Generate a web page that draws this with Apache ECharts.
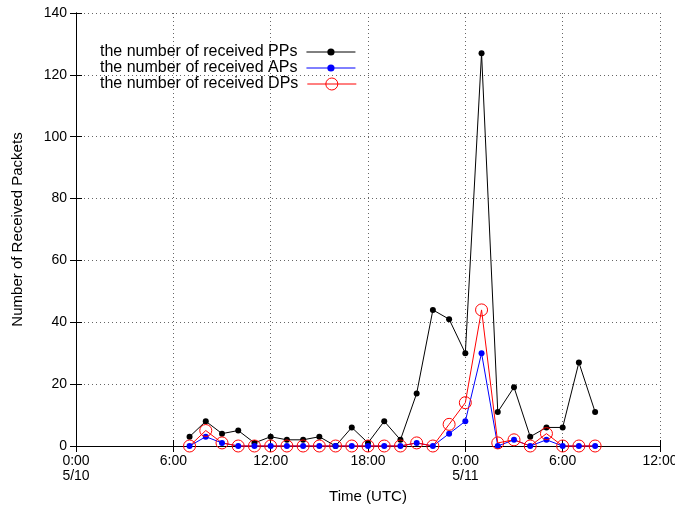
<!DOCTYPE html>
<html>
<head>
<meta charset="utf-8">
<script src="https://cdn.jsdelivr.net/npm/echarts@6/dist/echarts.min.js"></script>
<style>
html, body { margin: 0; padding: 0; background: #fff; }
#main { width: 675px; height: 506px; }
</style>
</head>
<body>
<div id="main"></div>
<script>
// hours since 0:00 5/10
var hours = [7, 8, 9, 10, 11, 12, 13, 14, 15, 16, 17, 18, 19, 20, 21, 22, 23, 24, 25, 26, 27, 28, 29, 30, 31, 32];
var ppValues = [3, 8, 4, 5, 1, 3, 2, 2, 3, 0, 6, 1, 8, 2, 17, 44, 41, 30, 127, 11, 19, 3, 6, 6, 27, 11];
var apValues = [0, 3, 1, 0, 0, 0, 0, 0, 0, 0, 0, 0, 0, 0, 1, 0, 4, 8, 30, 0, 2, 0, 2, 0, 0, 0];
var dpValues = [0, 5, 1, 0, 0, 0, 0, 0, 0, 0, 0, 0, 0, 0, 1, 0, 7, 14, 44, 1, 2, 0, 4, 0, 0, 0];
var seriesNames = ['the number of received PPs', 'the number of received APs', 'the number of received DPs'];
var xTickLabels = {0: '0:00\n5/10', 6: '6:00', 12: '12:00', 18: '18:00', 24: '0:00\n5/11', 30: '6:00', 36: '12:00'};

function pairs(vals) {
	return hours.map(function (h, i) { return [h, vals[i]]; });
}

var font = 'Liberation Sans, Arial, sans-serif';
var grid = { type: [1, 3], color: '#666', width: 1 };

// one legend per row so the marker size can differ (red circle is bigger)
function legendRow(name, top, h, extra) {
	var l = {
		orient: 'vertical',
		align: 'right',
		left: 100,
		top: top,
		padding: 0,
		itemWidth: 49,
		itemHeight: h,
		lineStyle: { width: 1 },
		textStyle: { fontFamily: font, fontSize: 16, color: '#000', padding: [0, 4, 0, 0] },
		data: [name]
	};
	if (extra) l.itemStyle = extra;
	return l;
}

var chart = echarts.init(document.getElementById('main'), null, { renderer: 'canvas' });
chart.setOption({
	animation: false,
	textStyle: { fontFamily: font },
	grid: { left: 76, right: 15, top: 13, bottom: 60, outerBoundsMode: 'none', containLabel: false },
	legend: [
		legendRow(seriesNames[0], 44, 9),
		legendRow(seriesNames[1], 60, 9),
		legendRow(seriesNames[2], 76, 15, { borderWidth: 1 })
	],
	xAxis: [{
		type: 'value',
		min: 0, max: 36, interval: 6,
		name: 'Time (UTC)',
		nameLocation: 'middle',
		nameGap: 41,
		nameTextStyle: { fontSize: 15, color: '#000' },
		axisLine: { lineStyle: { color: '#000' } },
		axisTick: { inside: true, length: 6, lineStyle: { color: '#000' } },
		axisLabel: {
			color: '#000', fontSize: 14, margin: 8, lineHeight: 15,
			formatter: function (v) { return xTickLabels[v]; }
		},
		splitLine: { show: true, lineStyle: grid }
	}, {
		type: 'value', position: 'top',
		min: 0, max: 36, interval: 6,
		axisLine: { show: true, lineStyle: { color: '#000' } },
		axisTick: { inside: true, length: 6, lineStyle: { color: '#000' } },
		axisLabel: { show: false },
		splitLine: { show: false }
	}],
	yAxis: [{
		type: 'value',
		min: 0, max: 140, interval: 20,
		name: 'Number of Received Packets',
		nameLocation: 'middle',
		nameGap: 51,
		nameTextStyle: { fontSize: 15, color: '#000' },
		axisLine: { show: true, lineStyle: { color: '#000' } },
		axisTick: { show: true, inside: true, length: 6, lineStyle: { color: '#000' } },
		axisLabel: { color: '#000', fontSize: 14, margin: 9 },
		splitLine: { show: true, lineStyle: grid }
	}, {
		type: 'value', position: 'right',
		min: 0, max: 140, interval: 20,
		axisLine: { show: true, lineStyle: { color: '#000' } },
		axisTick: { show: true, inside: true, length: 6, lineStyle: { color: '#000' } },
		axisLabel: { show: false },
		splitLine: { show: false }
	}],
	series: [{
		name: seriesNames[0],
		type: 'line',
		data: pairs(ppValues),
		symbol: 'circle', symbolSize: 6,
		clip: false,
		color: '#000',
		lineStyle: { color: '#000', width: 1 },
		itemStyle: { color: '#000' }
	}, {
		name: seriesNames[1],
		type: 'line',
		data: pairs(apValues),
		symbol: 'circle', symbolSize: 6,
		clip: false,
		color: '#0000ff',
		lineStyle: { color: '#0000ff', width: 1 },
		itemStyle: { color: '#0000ff' }
	}, {
		name: seriesNames[2],
		type: 'line',
		data: pairs(dpValues),
		symbol: 'circle', symbolSize: 12,
		clip: false,
		color: '#ff0000',
		lineStyle: { color: '#ff0000', width: 1 },
		itemStyle: { color: 'rgba(0,0,0,0)', borderColor: '#ff0000', borderWidth: 1 }
	}]
});
</script>
</body>
</html>
